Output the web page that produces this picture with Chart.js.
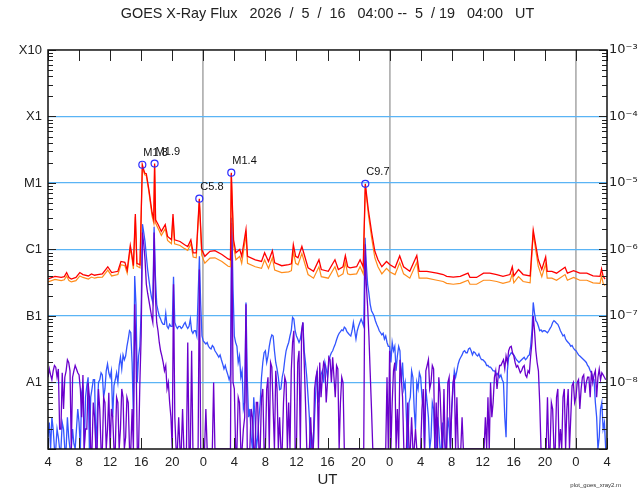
<!DOCTYPE html>
<html><head><meta charset="utf-8">
<script src="https://cdn.jsdelivr.net/npm/chart.js@4.4.1/dist/chart.umd.min.js"></script>
<style>html,body{margin:0;padding:0;background:#fff;}#wrap{width:640px;height:500px;}</style>
</head><body><div id="wrap"><canvas id="c" width="640" height="500"></canvas></div>
<script>
// Hours since 2026/5/16 04:00 UT
const tLong = [0.0,0.9,1.7,2.1,2.4,2.7,3.0,3.6,4.1,4.5,
5.2,5.6,6.0,6.4,7.0,7.7,8.2,9.0,9.4,9.9,
10.2,10.6,10.8,11.0,11.25,11.45,11.85,12.15,12.45,12.66,
13.0,13.4,13.62,13.73,13.86,14.2,14.6,15.1,15.4,15.9,
16.1,16.3,17.0,17.6,18.0,18.4,18.7,19.1,19.49,19.8,
20.2,20.86,21.5,22.4,23.2,23.5,23.61,23.9,24.2,24.7,
24.95,25.5,25.7,26.7,27.5,27.9,28.4,28.9,29.2,30.1,
31.0,31.35,31.6,31.9,32.2,32.7,33.0,33.5,34.2,34.9,
35.2,36.1,36.96,37.4,38.0,38.3,38.6,38.9,39.75,40.2,
40.6,40.87,41.26,41.7,42.1,42.5,43.0,43.6,44.05,44.7,
45.3,45.8,46.6,47.5,47.8,48.8,50.1,50.9,51.35,52.2,
53.1,54.1,54.35,55.2,56.1,56.9,57.8,58.6,59.5,59.8,
60.0,60.6,61.2,62.1,62.5,62.85,63.15,63.6,64.1,64.3,
64.9,65.5,66.6,66.9,67.7,68.5,69.4,70.2,71.1,71.3,
71.5,71.75];
// 1-8 A flux (W/m^2), primary (red)
const xrsLong = [3.6e-7,3.95e-7,3.8e-7,3.9e-7,4.5e-7,3.8e-7,3.6e-7,3.8e-7,4.5e-7,4.2e-7,
4.0e-7,4.3e-7,4.1e-7,4.2e-7,4.3e-7,5.5e-7,4.5e-7,4.7e-7,6.6e-7,6.4e-7,
4.9e-7,1.15e-6,8.4e-7,5.7e-7,3.4e-6,6.2e-7,5.9e-7,1.88e-5,1.41e-5,1.38e-5,
7.9e-6,3.6e-6,2.8e-6,1.96e-5,2.8e-6,2.36e-6,1.87e-6,2.36e-6,1.57e-6,1.4e-6,
3.4e-6,1.4e-6,1.32e-6,1.18e-6,1.11e-6,1.4e-6,8.9e-7,8.9e-7,5.8e-6,1.0e-6,
7.9e-7,9.4e-7,9.6e-7,8.4e-7,7.2e-7,7.0e-7,1.43e-5,1.4e-6,8.9e-7,1.0e-6,
7.9e-7,2.0e-6,7.9e-7,7.0e-7,6.6e-7,8.9e-7,6.6e-7,9.6e-7,6.3e-7,5.7e-7,
5.9e-7,6.1e-7,1.18e-6,7.9e-7,7.5e-7,1.11e-6,8.4e-7,5.3e-7,4.7e-7,7.0e-7,
5.0e-7,4.7e-7,7.0e-7,5.0e-7,5.5e-7,8.1e-7,5.5e-7,5.3e-7,5.5e-7,7.0e-7,
5.5e-7,9.7e-6,3.96e-6,1.77e-6,9.4e-7,7.0e-7,5.5e-7,6.6e-7,5.9e-7,5.3e-7,
8.0e-7,5.5e-7,4.7e-7,8.1e-7,4.7e-7,4.7e-7,4.4e-7,4.2e-7,3.95e-7,3.85e-7,
3.95e-7,4.4e-7,3.8e-7,3.8e-7,4.4e-7,4.4e-7,4.2e-7,3.95e-7,4.2e-7,5.5e-7,
4.0e-7,5.0e-7,4.2e-7,4.0e-7,1.94e-6,1.11e-6,7.0e-7,5.0e-7,7.7e-7,4.7e-7,
4.7e-7,4.4e-7,5.4e-7,4.4e-7,4.8e-7,4.4e-7,4.4e-7,4.0e-7,3.95e-7,5.1e-7,
3.95e-7,3.6e-7];
// 1-8 A flux, secondary (orange)
const xrsLong2 = [3.25e-7,3.55e-7,3.4e-7,3.5e-7,4.0e-7,3.4e-7,3.25e-7,3.4e-7,4.0e-7,3.8e-7,
3.6e-7,3.85e-7,3.7e-7,3.8e-7,3.85e-7,4.9e-7,4.0e-7,4.2e-7,5.9e-7,5.7e-7,
4.4e-7,1.05e-6,7.6e-7,5.1e-7,3.1e-6,5.6e-7,5.3e-7,1.78e-5,1.33e-5,1.3e-5,
7.3e-6,3.2e-6,2.5e-6,1.86e-5,2.5e-6,2.05e-6,1.63e-6,2.05e-6,1.37e-6,1.22e-6,
3.0e-6,1.22e-6,1.15e-6,1.03e-6,9.7e-7,1.22e-6,7.7e-7,7.5e-7,5.4e-6,8.2e-7,
6.2e-7,7.4e-7,7.5e-7,6.6e-7,5.6e-7,5.5e-7,1.35e-5,1.15e-6,7.0e-7,7.9e-7,
6.2e-7,1.65e-6,6.2e-7,5.5e-7,5.2e-7,7.0e-7,5.2e-7,7.5e-7,4.9e-7,4.5e-7,
4.6e-7,4.8e-7,9.3e-7,6.2e-7,5.9e-7,8.7e-7,6.6e-7,4.2e-7,3.7e-7,5.5e-7,
3.9e-7,3.7e-7,5.5e-7,3.9e-7,4.3e-7,6.4e-7,4.3e-7,4.2e-7,4.3e-7,5.5e-7,
4.3e-7,9.2e-6,3.4e-6,1.45e-6,7.5e-7,5.5e-7,4.3e-7,5.2e-7,4.6e-7,4.2e-7,
6.3e-7,4.3e-7,3.7e-7,6.4e-7,3.7e-7,3.7e-7,3.45e-7,3.3e-7,3.1e-7,3.0e-7,
3.1e-7,3.45e-7,3.0e-7,3.0e-7,3.45e-7,3.45e-7,3.3e-7,3.1e-7,3.3e-7,4.3e-7,
3.15e-7,3.9e-7,3.3e-7,3.15e-7,1.75e-6,9.3e-7,5.6e-7,3.9e-7,6.1e-7,3.7e-7,
3.7e-7,3.45e-7,4.2e-7,3.45e-7,3.8e-7,3.45e-7,3.45e-7,3.15e-7,3.1e-7,4.0e-7,
3.1e-7,2.85e-7];
// 0.5-4 A flux, primary (blue), every 10 minutes from 04:00 (one row per hour)
const xrsShort = [
1.5e-9,2.5e-9,1e-9,3e-9,2e-9,1e-9,
1e-9,2e-9,1.5e-9,1e-9,1e-9,2.5e-9,
2e-9,1e-9,1e-9,3e-9,1.5e-9,1e-9,
1e-9,2e-9,1.2e-9,1e-9,2e-9,4e-9,
2.5e-9,1e-9,7e-9,9e-9,1e-9,6e-9,
9e-9,1.2e-8,1e-9,6e-9,8e-9,1.1e-8,
1.1e-8,1e-9,3e-9,1e-8,1.1e-8,1.4e-8,
1.3e-8,6e-9,8e-9,1.5e-8,1.9e-8,1.4e-8,
1.2e-8,1.5e-8,3e-9,9e-9,1.1e-8,1.4e-8,
1.0e-8,1.8e-8,2.4e-8,1.6e-8,2.6e-8,2.2e-8,
2.5e-8,3.5e-8,4.5e-8,6e-8,5.6e-8,2e-8,
3e-9,4e-7,1.5e-7,1e-8,2.5e-8,3.5e-8,
1.2e-7,2.4e-6,1.8e-6,1.3e-6,8e-7,5e-7,
3.5e-7,2.5e-7,1.9e-7,1.6e-7,2.2e-6,4e-7,
1.5e-7,1.2e-7,1.0e-7,9e-8,8e-8,7.5e-8,
7.5e-8,1.1e-7,7e-8,6.5e-8,7.5e-8,7e-8,
7e-8,3.9e-7,8e-8,7e-8,6.5e-8,7e-8,
7e-8,6.5e-8,6.8e-8,7.5e-8,8e-8,7e-8,
6.5e-8,7e-8,9e-8,6e-8,5.5e-8,6e-8,
6e-8,5e-8,2e-7,7.9e-7,1.5e-7,5e-8,
4.2e-8,4e-8,3.8e-8,4e-8,3.5e-8,3.3e-8,
3.2e-8,3.6e-8,3.4e-8,3e-8,2.8e-8,2.6e-8,
2.4e-8,2.6e-8,2.2e-8,1.9e-8,1.6e-8,1.8e-8,
1.5e-8,1.3e-8,1.1e-8,1.3e-8,3.0e-6,2.5e-7,
5e-8,4e-8,3.5e-8,2e-8,2.5e-8,1.2e-8,
1.5e-8,4e-9,5e-9,1.6e-7,1.2e-8,3e-9,
4e-9,1.5e-9,1e-9,6e-9,3e-9,1e-9,
1.5e-9,3e-9,5e-9,1.2e-8,2e-8,2.8e-8,
3e-8,2e-8,2.5e-8,3.5e-8,4.5e-8,5.2e-8,
5e-8,3e-8,2e-8,1.6e-8,1.2e-8,7.8e-9,
8e-9,1.2e-8,1.5e-8,2.2e-8,3e-8,3.5e-8,
4e-8,5e-8,6e-8,9.5e-8,9e-8,6e-8,
5e-8,4.5e-8,4e-8,4.5e-8,6e-8,8e-8,
3e-8,2e-8,1.2e-8,6e-9,3e-9,1e-9,
1.5e-9,1e-9,3e-9,8e-9,1.5e-8,5e-9,
8e-9,1.3e-8,1.5e-8,1e-8,2e-8,1.6e-8,
1.2e-8,2e-8,2.5e-8,2.8e-8,3e-8,3.4e-8,
3.8e-8,4.4e-8,5e-8,5.5e-8,5.8e-8,6.2e-8,
6e-8,6.8e-8,6.5e-8,5.8e-8,5.5e-8,5.2e-8,
5e-8,6e-8,8e-8,6e-8,4.5e-8,6e-8,
7e-8,8e-8,9e-8,8e-8,7e-8,1.5e-6,
6e-7,3e-7,2.2e-7,1.5e-7,1.2e-7,1.1e-7,
1.0e-7,8.5e-8,7.5e-8,6.8e-8,6e-8,5.6e-8,
5.2e-8,5.5e-8,4.5e-8,5e-8,4e-8,3.5e-8,
3.5e-8,2e-8,4e-8,3e-8,3.5e-8,1.5e-8,
2.5e-8,3.5e-8,3e-8,1e-8,2e-8,8e-9,
1e-8,3e-9,1e-9,5e-9,6e-9,1.5e-8,
1.2e-8,4e-9,2e-9,1e-8,8e-9,1.4e-8,
1.2e-8,6e-9,4e-9,1e-9,8e-9,5e-9,
3e-9,1e-9,1.5e-9,5e-9,4e-9,1e-9,
1e-9,3e-9,2e-9,1e-9,1e-9,2.5e-9,
1.5e-9,1e-9,1e-9,3e-9,2e-9,1e-9,
4e-9,8e-9,1.5e-8,1.2e-8,1.5e-8,1.9e-8,
2.2e-8,2.4e-8,2.6e-8,2.9e-8,3e-8,2.8e-8,
2.8e-8,3.2e-8,3.3e-8,3e-8,2.6e-8,2.9e-8,
2.8e-8,2.6e-8,2.5e-8,2.7e-8,2.4e-8,2.2e-8,
2.2e-8,2.1e-8,2e-8,1.8e-8,1.8e-8,1.7e-8,
1.7e-8,1.6e-8,1.5e-8,1.5e-8,1.4e-8,1.3e-8,
1.4e-8,1.2e-8,1.3e-8,1.1e-8,1e-8,3e-9,
1.5e-9,1.5e-8,2.4e-8,2.6e-8,2.8e-8,2.7e-8,
2.6e-8,2.4e-8,2.2e-8,2.1e-8,2e-8,2.1e-8,
2.2e-8,2.3e-8,2.4e-8,2.2e-8,2.3e-8,2.5e-8,
2.6e-8,3.5e-8,6e-8,1.6e-7,1.1e-7,8.5e-8,
8e-8,7e-8,6e-8,6.2e-8,5.8e-8,6e-8,
6e-8,5.8e-8,5.6e-8,6e-8,6.5e-8,7e-8,
8e-8,8.5e-8,8.2e-8,7.8e-8,7.5e-8,6.8e-8,
6e-8,5.5e-8,5e-8,5.2e-8,4.5e-8,4.2e-8,
4e-8,3.8e-8,3.5e-8,3.6e-8,3.3e-8,3.1e-8,
3e-8,2.8e-8,2.6e-8,2.5e-8,2.4e-8,2.3e-8,
2.2e-8,2.1e-8,2e-8,1.8e-8,1.7e-8,1.5e-8,
1.4e-8,1.2e-8,1.1e-8,5e-9,3e-9,1e-9,
1.5e-9,4e-9,5e-9,2e-9,2.5e-9,1e-9];
// 0.5-4 A flux, secondary (purple), every 10 minutes from 04:00 (one row per hour)
const xrsShort2 = [
1.2e-8,1.6e-8,1.3e-8,1.1e-8,1.5e-8,1.8e-8,
1.7e-8,1.2e-8,1.6e-8,2e-9,2e-9,1.4e-8,
4e-9,1.2e-8,1.5e-8,2.2e-8,2e-8,1.5e-8,
1e-9,1.2e-8,1.5e-8,1.8e-8,1.6e-8,1.4e-8,
1.3e-8,8e-9,3e-9,1.3e-8,1e-9,2e-9,
2e-9,1e-8,6e-9,1e-9,1e-9,5e-9,
3e-9,1e-9,1e-9,8e-9,4e-9,1e-9,
1e-9,6e-9,5e-9,1e-9,2e-9,7e-9,
1e-9,4e-9,3e-9,1e-9,1e-9,6e-9,
5e-9,1e-9,2e-9,8e-9,6e-9,1e-9,
1.5e-9,6e-9,5e-9,1e-9,1e-9,4e-9,
1e-9,1.5e-7,3e-8,1e-9,1e-9,1e-8,
5e-8,1.8e-6,1.2e-6,7e-7,3e-7,2.2e-7,
1.7e-7,1.3e-7,1.0e-7,8e-8,1.8e-6,2e-7,
8e-8,6e-8,4e-8,3e-8,2.5e-8,2e-8,
1.5e-8,1.8e-8,8e-9,1e-8,5e-9,3e-9,
1e-9,3e-7,3e-9,1e-9,1e-9,3e-9,
1e-9,1e-9,4e-9,1e-9,1e-9,1e-9,
4e-8,1e-9,1e-9,3e-8,1e-9,1e-9,
1e-9,1e-9,1e-9,5e-7,1e-9,1e-9,
1e-9,1e-9,4e-9,1e-9,1e-9,1e-9,
1e-9,1e-9,1e-8,1e-9,1e-9,1e-9,
1e-9,1e-9,1e-9,1e-9,1e-9,1e-9,
1e-9,1e-9,1e-9,1e-9,2.5e-6,1e-8,
8e-9,1e-9,1e-9,6e-9,5e-9,1e-9,
1e-9,2e-9,3e-9,1.5e-7,1e-9,1e-9,
1e-9,4e-9,3e-9,1e-9,1e-9,5e-9,
5e-9,1e-9,1e-9,6e-9,8e-9,1e-9,
1e-9,8e-9,1.2e-8,1e-9,2e-8,1.7e-8,
4e-9,1e-9,1.5e-8,8e-9,1e-9,3e-9,
1e-9,1e-9,5e-9,1.2e-8,1e-8,1e-9,
5e-9,1e-9,1.5e-8,4e-8,6e-8,1e-9,
1e-9,2e-8,3e-8,1e-9,6e-8,8e-8,
2e-8,5e-9,1e-9,1e-9,1e-9,3e-9,
1e-9,1e-9,8e-9,1.2e-8,1.5e-8,1e-9,
2e-8,6e-9,1.2e-8,2e-8,1.8e-8,5e-9,
1e-8,2.4e-8,2.2e-8,1e-8,2.4e-8,1.2e-8,
6e-9,1.8e-8,1.6e-8,1e-9,5e-9,1.2e-8,
1e-8,1e-9,1e-9,1e-9,1e-9,1e-9,
1e-9,1e-9,1e-9,1e-9,1e-9,1e-9,
1e-9,1e-9,1e-9,1e-9,1e-9,1.2e-6,
3e-7,1.4e-7,5e-8,1.4e-8,4e-9,1e-9,
1e-9,1e-9,1e-9,1e-9,1e-9,1e-9,
1e-9,1e-9,1e-9,1e-9,1.2e-8,1e-9,
3e-8,1e-9,5e-9,1.5e-8,2e-8,1e-9,
4e-9,1e-9,2.2e-8,1.2e-8,6e-9,1e-9,
1e-9,1e-9,5e-9,1e-9,1e-9,3e-9,
1e-9,1e-9,2e-9,1e-9,1e-9,1e-9,
1e-9,4e-9,8e-9,1e-9,1.5e-8,1.8e-8,
2.2e-8,8e-9,1e-8,1.8e-8,1.6e-8,1e-9,
5e-9,1e-9,1.2e-8,7e-9,2e-9,1e-9,
8e-9,1e-9,1e-9,1e-8,1.2e-8,1e-9,
4e-9,1e-8,1.3e-8,1e-9,6e-9,1e-9,
1e-9,1e-9,3e-9,1e-9,1e-9,1e-9,
1e-9,1e-9,1e-9,1e-9,1e-9,1e-9,
1e-9,1e-9,1e-9,1e-9,1e-9,1e-9,
1e-9,1e-9,3e-9,1e-9,6e-9,1e-9,
1e-8,3e-9,5e-9,1.2e-8,1.5e-8,8e-9,
1.3e-8,1.8e-8,1.8e-8,2e-8,2.2e-8,1.6e-8,
2.5e-8,2e-8,3e-8,3.4e-8,3.5e-8,2.8e-8,
2.5e-8,2e-8,1.7e-8,1.8e-8,1.6e-8,1.4e-8,
1.5e-8,1.7e-8,1.8e-8,1.3e-8,1.2e-8,1.5e-8,
1.4e-8,2.5e-8,4e-8,1.0e-7,6e-8,3e-8,
2e-8,1.5e-8,5e-9,1e-9,1e-9,1e-9,
1e-9,1e-9,6e-9,1e-9,1e-9,5e-9,
4e-9,1e-9,1e-9,6e-9,8e-9,1e-9,
2e-9,1e-9,6e-9,8e-9,1e-9,4e-9,
8e-9,1e-9,3e-9,9e-9,1e-8,5e-9,
6e-9,1e-8,1.1e-8,4e-9,8e-9,1.2e-8,
1.3e-8,7e-9,1e-8,1.2e-8,1.2e-8,6e-9,
1.5e-8,1e-8,1.3e-8,1.5e-8,6e-9,1.2e-8,
1.6e-8,1.1e-8,1.4e-8,1.3e-8,1.2e-8,1.1e-8];
const shortStepHours = 10 / 60;
const tShort = xrsShort.map((_, i) => i * shortStepHours);

// flare peaks
const flareTimes  = [12.15, 13.73, 19.49, 23.61, 40.87];
const flarePeaks  = [1.88e-5, 1.96e-5, 5.8e-6, 1.43e-5, 9.7e-6];
const flareLabels = ['M1.8', 'M1.9', 'C5.8', 'M1.4', 'C9.7'];

// axes
const xTickValues = [0,4,8,12,16,20,24,28,32,36,40,44,48,52,56,60,64,68,72];
const xTickLabels = ['4','8','12','16','20','0','4','8','12','16','20','0','4','8','12','16','20','0','4'];
const dayBoundaries = [20, 44, 68];
const yDecades = [1e-8, 1e-7, 1e-6, 1e-5, 1e-4, 1e-3];
const leftLabels = ['A1', 'B1', 'C1', 'M1', 'X1', 'X10'];
const rightLabels = ['10\u207B\u2078', '10\u207B\u2077', '10\u207B\u2076', '10\u207B\u2075', '10\u207B\u2074', '10\u207B\u00B3'];
const titleText = 'GOES X-Ray Flux   2026  /  5  /  16   04:00 --  5  / 19   04:00   UT';
const footerText = 'plot_goes_xray2.m';

const yTickValues = [];
for (let e = -9; e <= -4; e++) for (let m = 1; m <= 9; m++) yTickValues.push(m * Math.pow(10, e));
yTickValues.push(1e-3);

function decadeIndex(v) {
  for (let i = 0; i < yDecades.length; i++) if (Math.abs(Math.log10(v) - Math.log10(yDecades[i])) < 1e-6) return i;
  return -1;
}
function isDecade(v) { return Math.abs(Math.log10(v) - Math.round(Math.log10(v))) < 1e-6; }

const pts = (ts, vs) => ts.map((t, i) => ({x: t, y: vs[i]}));

const decor = {
  id: 'decor',
  afterDatasetsDraw(chart) {
    const {ctx, chartArea: a, scales} = chart;
    ctx.save();
    ctx.strokeStyle = '#222';
    ctx.lineWidth = 1;
    ctx.beginPath();
    scales.x.ticks.forEach(t => {
      const x = Math.round(scales.x.getPixelForValue(t.value)) + 0.5;
      ctx.moveTo(x, a.top); ctx.lineTo(x, a.top + 11);
      ctx.moveTo(x, a.bottom); ctx.lineTo(x, a.bottom - 11);
    });
    scales.y.ticks.forEach(t => {
      const y = Math.round(scales.y.getPixelForValue(t.value)) + 0.5;
      const len = isDecade(t.value) ? 8 : 5;
      ctx.moveTo(a.left, y); ctx.lineTo(a.left + len, y);
      ctx.moveTo(a.right, y); ctx.lineTo(a.right - len, y);
    });
    ctx.stroke();
    ctx.lineWidth = 1.5;
    ctx.strokeStyle = '#111';
    ctx.strokeRect(a.left, a.top, a.right - a.left, a.bottom - a.top);
    // flare labels
    const meta = chart.getDatasetMeta(4);
    ctx.fillStyle = '#111';
    ctx.font = '11px "Liberation Sans", Arial, sans-serif';
    ctx.textAlign = 'left';
    ctx.textBaseline = 'middle';
    meta.data.forEach((p, i) => ctx.fillText(flareLabels[i], p.x + 1, p.y - 12));
    // footer
    ctx.font = '6px "Liberation Sans", Arial, sans-serif';
    ctx.fillStyle = '#333';
    ctx.textAlign = 'right';
    ctx.fillText(footerText, 621, 485);
    ctx.restore();
  }
};

new Chart(document.getElementById('c'), {
  type: 'line',
  data: {
    datasets: [
      {label: 'GOES 1-8 A', data: pts(tLong, xrsLong), borderColor: '#ff0000', borderWidth: 1.3, pointRadius: 0, order: 1},
      {label: 'GOES 1-8 A (secondary)', data: pts(tLong, xrsLong2), borderColor: '#ff8c1a', borderWidth: 1.2, pointRadius: 0, order: 2},
      {label: 'GOES 0.5-4 A (secondary)', data: pts(tShort, xrsShort2), borderColor: '#6a00cc', borderWidth: 1.3, pointRadius: 0, order: 3},
      {label: 'GOES 0.5-4 A', data: pts(tShort, xrsShort), borderColor: '#3355ff', borderWidth: 1.3, pointRadius: 0, order: 4},
      {label: 'Flares', data: pts(flareTimes, flarePeaks), showLine: false, pointRadius: 3.5, pointStyle: 'circle',
       pointBackgroundColor: 'rgba(0,0,0,0)', pointBorderColor: '#2a2aff', pointBorderWidth: 1.2, order: 0}
    ]
  },
  options: {
    responsive: false, animation: false, devicePixelRatio: 1,
    layout: {padding: 0},
    plugins: {
      legend: {display: false}, tooltip: {enabled: false},
      title: {display: true, text: titleText, fullSize: false, color: '#222',
        font: {family: '"Liberation Sans", Arial, sans-serif', size: 14.4, weight: 'normal'},
        padding: {top: 5, bottom: 27.7}}
    },
    scales: {
      x: {
        type: 'linear', position: 'bottom', min: 0, max: 72,
        afterBuildTicks: s => { s.ticks = xTickValues.map(v => ({value: v})); },
        afterFit: s => { s.height = 51; },
        ticks: {autoSkip: false, maxRotation: 0, padding: 6, color: '#222',
          font: {family: '"Liberation Sans", Arial, sans-serif', size: 13},
          callback: (v, i) => xTickLabels[i]},
        grid: {drawTicks: false,
          color: c => (c.tick && dayBoundaries.includes(c.tick.value)) ? '#b4b4b4' : 'rgba(0,0,0,0)',
          lineWidth: 1.8},
        border: {display: false},
        title: {display: true, text: 'UT', color: '#222',
          font: {family: '"Liberation Sans", Arial, sans-serif', size: 15}, padding: {top: 0, bottom: 11}}
      },
      y: {
        type: 'logarithmic', position: 'left', min: 1e-9, max: 1e-3,
        afterBuildTicks: s => { s.ticks = yTickValues.map(v => ({value: v, major: isDecade(v)})); },
        afterFit: s => { s.width = 48; },
        ticks: {autoSkip: false, padding: 6, color: '#222',
          font: {family: '"Liberation Sans", Arial, sans-serif', size: 13},
          callback: v => { const i = decadeIndex(v); return i >= 0 ? leftLabels[i] : ''; }},
        grid: {drawTicks: false,
          color: c => { const v = c.tick && c.tick.value; return (v && isDecade(v) && v > 1.5e-9 && v < 0.9e-3) ? '#5ab4f5' : 'rgba(0,0,0,0)'; },
          lineWidth: 1.3},
        border: {display: false}
      },
      y2: {
        type: 'logarithmic', position: 'right', min: 1e-9, max: 1e-3,
        afterBuildTicks: s => { s.ticks = yTickValues.map(v => ({value: v, major: isDecade(v)})); },
        afterFit: s => { s.width = 33; },
        ticks: {autoSkip: false, padding: 2, color: '#222',
          font: {family: '"DejaVu Sans", sans-serif', size: 13},
          callback: v => { const i = decadeIndex(v); return i >= 0 ? rightLabels[i] : ''; }},
        grid: {display: false, drawTicks: false},
        border: {display: false}
      }
    }
  },
  plugins: [decor]
});
</script></body></html>
